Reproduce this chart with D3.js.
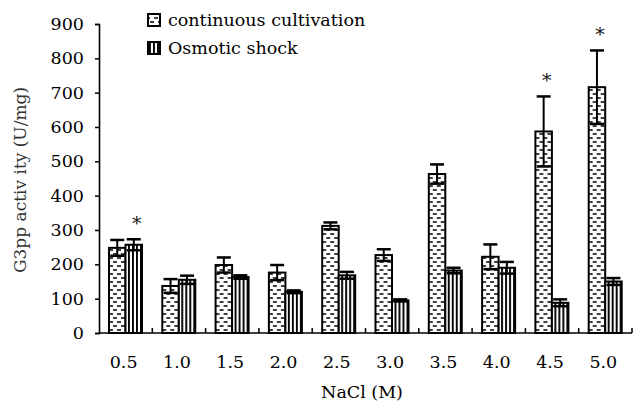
<!DOCTYPE html>
<html>
<head>
<meta charset="utf-8">
<script src="https://cdn.jsdelivr.net/npm/d3@7"></script>
<style>
	body { margin: 0; background: #fff; }
	svg { display: block; }
</style>
</head>
<body>
<svg id="chart" width="640" height="404"></svg>
<script>
const categories = ["0.5", "1.0", "1.5", "2.0", "2.5", "3.0", "3.5", "4.0", "4.5", "5.0"];
const continuousMean = [248, 137, 198, 176, 312, 227, 463, 222, 587, 716];
const continuousErr = [23, 20, 22, 22, 10, 17, 28, 36, 102, 107];
const osmoticMean = [257, 155, 163, 120, 168, 95, 182, 190, 88, 150];
const osmoticErr = [16, 12, 5, 4, 10, 3, 8, 17, 10, 10];
const yTicks = [0, 100, 200, 300, 400, 500, 600, 700, 800, 900];
const starred = [
	{ cat: "0.5", series: "osm" },
	{ cat: "4.5", series: "cont" },
	{ cat: "5.0", series: "cont" },
];

const svg = d3.select("#chart");
const font = "DejaVu Serif";

const x = d3.scaleBand().domain(categories).range([99, 632]).padding(0);
const xSub = d3.scaleBand().domain(["cont", "osm"]).range([10, 43]).padding(0);
const y = d3.scaleLinear().domain([0, 900]).range([333, 24]);

// fill patterns
const defs = svg.append("defs");
const dash = defs
	.append("pattern")
	.attr("id", "dash")
	.attr("patternUnits", "userSpaceOnUse")
	.attr("width", 8)
	.attr("height", 8);
dash.append("rect").attr("width", 8).attr("height", 8).attr("fill", "#fff");
[
	[2, 6, 2],
	[-2, 2, 6],
	[6, 10, 6],
].forEach(([x1, x2, yy]) => {
	dash.append("line").attr("x1", x1).attr("x2", x2).attr("y1", yy).attr("y2", yy).attr("stroke", "#000").attr("stroke-width", 1.5);
});

const vert = defs
	.append("pattern")
	.attr("id", "vert")
	.attr("patternUnits", "userSpaceOnUse")
	.attr("width", 4)
	.attr("height", 4);
vert.append("rect").attr("width", 4).attr("height", 4).attr("fill", "#fff");
vert.append("rect").attr("x", 1).attr("width", 1.9).attr("height", 4).attr("fill", "#000");

const rows = categories.map((c, i) => ({
	cat: c,
	cont: { mean: continuousMean[i], err: continuousErr[i] },
	osm: { mean: osmoticMean[i], err: osmoticErr[i] },
}));

// bars
const groups = svg
	.selectAll("g.grp")
	.data(rows)
	.join("g")
	.attr("class", "grp")
	.attr("transform", (d) => `translate(${x(d.cat)},0)`);

["cont", "osm"].forEach((s) => {
	groups
		.append("rect")
		.attr("x", xSub(s))
		.attr("y", (d) => y(d[s].mean))
		.attr("width", xSub.bandwidth())
		.attr("height", (d) => y(0) - y(d[s].mean))
		.attr("fill", s === "cont" ? "url(#dash)" : "url(#vert)")
		.attr("stroke", "#000")
		.attr("stroke-width", 2);
});

// error bars
["cont", "osm"].forEach((s) => {
	const cx = xSub(s) + xSub.bandwidth() / 2;
	const cap = 7;
	groups
		.append("line")
		.attr("x1", cx)
		.attr("x2", cx)
		.attr("y1", (d) => y(d[s].mean - d[s].err))
		.attr("y2", (d) => y(d[s].mean + d[s].err))
		.attr("stroke", "#000")
		.attr("stroke-width", 2);
	[1, -1].forEach((sign) => {
		groups
			.append("line")
			.attr("x1", cx - cap)
			.attr("x2", cx + cap)
			.attr("y1", (d) => y(d[s].mean + sign * d[s].err))
			.attr("y2", (d) => y(d[s].mean + sign * d[s].err))
			.attr("stroke", "#000")
			.attr("stroke-width", 2.5);
	});
});

// significance marks
starred.forEach((m) => {
	const d = rows.find((r) => r.cat === m.cat);
	svg
		.append("text")
		.attr("x", x(m.cat) + xSub(m.series) + xSub.bandwidth() / 2 + 3)
		.attr("y", y(d[m.series].mean + d[m.series].err) - 9)
		.attr("text-anchor", "middle")
		.attr("font-family", font)
		.attr("font-size", "19px")
		.attr("fill", "#111")
		.text("*");
});

// y axis
const yAxis = svg
	.append("g")
	.attr("transform", "translate(99,0)")
	.call(d3.axisLeft(y).tickValues(yTicks).tickSize(4).tickPadding(11).tickSizeOuter(4));
yAxis.select(".domain").attr("stroke-width", 1.6);
yAxis.selectAll(".tick line").attr("stroke-width", 1.5);
yAxis.selectAll("text").attr("font-family", font).attr("font-size", "17.5px").attr("fill", "#000");

// x axis
svg
	.append("line")
	.attr("x1", 99)
	.attr("x2", 632)
	.attr("y1", y(0))
	.attr("y2", y(0))
	.attr("stroke", "#000")
	.attr("stroke-width", 1.6);
svg
	.selectAll("line.xtick")
	.data(categories.slice(1).concat(["end"]))
	.join("line")
	.attr("class", "xtick")
	.attr("x1", (d) => (d === "end" ? 632 : x(d)))
	.attr("x2", (d) => (d === "end" ? 632 : x(d)))
	.attr("y1", y(0))
	.attr("y2", y(0) - 5)
	.attr("stroke", "#000")
	.attr("stroke-width", 1.5);
svg
	.selectAll("text.xlab")
	.data(categories)
	.join("text")
	.attr("class", "xlab")
	.attr("x", (d) => x(d) + x.bandwidth() / 2 - 2)
	.attr("y", 368)
	.attr("text-anchor", "middle")
	.attr("font-family", font)
	.attr("font-size", "17.5px")
	.attr("fill", "#000")
	.text((d) => d);

// axis titles
svg
	.append("text")
	.attr("x", 362)
	.attr("y", 398)
	.attr("text-anchor", "middle")
	.attr("font-family", font)
	.attr("font-size", "17.5px")
	.attr("fill", "#000")
	.text("NaCl (M)");

svg
	.append("text")
	.attr("transform", "translate(26,180) rotate(-90)")
	.attr("text-anchor", "middle")
	.attr("font-family", font)
	.attr("font-size", "17px")
	.attr("fill", "#333")
	.text("G3pp activ ity (U/mg)");

// legend
const legend = [
	{ label: "continuous cultivation", fill: "url(#dash)", y: 14 },
	{ label: "Osmotic shock", fill: "url(#vert)", y: 42 },
];
legend.forEach((l) => {
	svg
		.append("rect")
		.attr("x", 148)
		.attr("y", l.y)
		.attr("width", 12)
		.attr("height", 12)
		.attr("fill", l.fill)
		.attr("stroke", "#000")
		.attr("stroke-width", 2);
	svg
		.append("text")
		.attr("x", 168)
		.attr("y", l.y + 12)
		.attr("font-family", font)
		.attr("font-size", "17.5px")
		.attr("fill", "#000")
		.text(l.label);
});
</script>
</body>
</html>
